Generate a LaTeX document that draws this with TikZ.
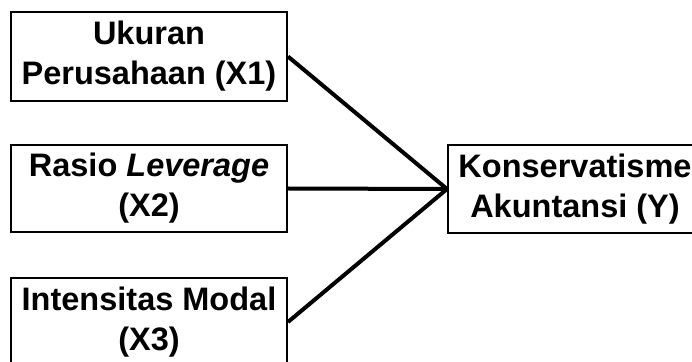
\documentclass[tikz,border=0pt]{standalone}
\usepackage{fontspec}
\setmainfont{Liberation Sans}
\begin{document}
\begin{tikzpicture}[x=1pt,y=1pt,
  var/.style={draw=black,line width=2pt,fill=white,inner sep=0pt,align=center,
    font=\fontsize{32.5}{40}\selectfont\bfseries},
  link/.style={line width=4pt,black}]
\useasboundingbox (0,0) rectangle (692,361);
\node[var,minimum width=276pt,minimum height=89pt] (x1) at (149,304.5) {Ukuran\\Perusahaan (X1)};
\node[var,minimum width=276pt,minimum height=87pt] (x2) at (149,172.5) {Rasio \textit{Leverage}\\(X2)};
\node[var,minimum width=276pt,minimum height=88pt] (x3) at (149,39) {Intensitas Modal\\(X3)};
\node[var,minimum width=254pt,minimum height=88pt] (y) at (575,172) {Konservatisme\\Akuntansi (Y)};
\draw[link] (x1.east) -- (y.west);
\draw[link] (x2.east) -- (y.west);
\draw[link] (x3.east) -- (y.west);
\end{tikzpicture}
\end{document}
